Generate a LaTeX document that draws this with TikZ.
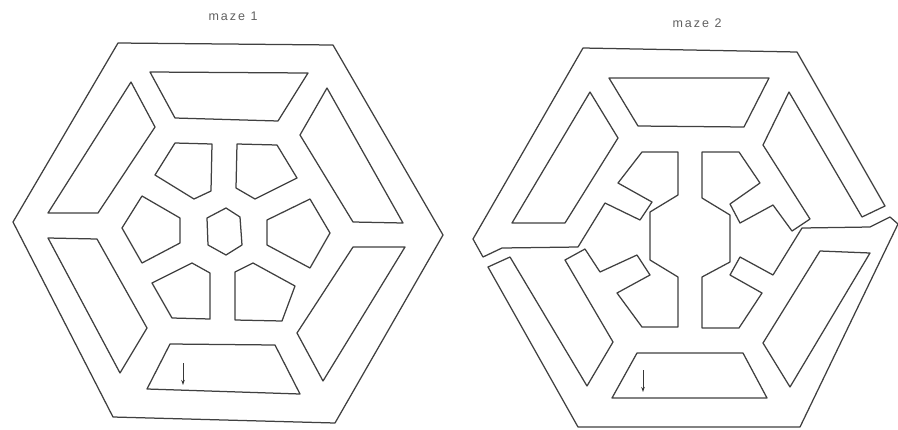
\documentclass[tikz,border=0pt]{standalone}
\usepackage{fontspec}
\setmainfont{Liberation Sans}
\usetikzlibrary{arrows.meta}
\begin{document}
\begin{tikzpicture}[x=1pt,y=-1pt,
  wall/.style={draw=black!75, line width=1.25pt, line join=round},
  ptr/.style={draw=black!78, line width=1pt, -{Stealth[length=5pt,width=3.5pt]}},
  title/.style={text=black!62, inner sep=0pt, font=\fontsize{12.5}{14}\selectfont\addfontfeatures{LetterSpace=16}}]
\useasboundingbox (0,0) rectangle (898,429);
\fill[white] (0,0) rectangle (898,429);

% titles
\node[title] (t1) at (233,16) {maze 1};
\node[title] (t2) at (697,23) {maze 2};

% ---------- maze 1 ----------
\draw[wall] (118,43) -- (333,45) -- (443,235) -- (335,423) -- (113,417) -- (13,222) -- cycle;
% outer ring blocks
\draw[wall] (150,72) -- (308,73) -- (278,121) -- (175,118) -- cycle;
\draw[wall] (131,82) -- (155,127) -- (98,213) -- (48,213) -- cycle;
\draw[wall] (327,88) -- (403,223) -- (353,222) -- (300,135) -- cycle;
\draw[wall] (48,238) -- (97,239) -- (147,328) -- (120,373) -- cycle;
\draw[wall] (405,247) -- (353,247) -- (297,333) -- (323,381) -- cycle;
\draw[wall] (170,344) -- (275,345) -- (300,394) -- (147,389) -- cycle;
\draw[ptr] (183,363) -- (183,385);
% pentagons
\draw[wall] (175,143) -- (212,144) -- (211,191) -- (194,199) -- (155,175) -- cycle;
\draw[wall] (237,144) -- (277,145) -- (297,178) -- (255,199) -- (236,188) -- cycle;
\draw[wall] (142,196) -- (180,218) -- (180,243) -- (142,263) -- (122,228) -- cycle;
\draw[wall] (310,199) -- (330,233) -- (310,268) -- (267,245) -- (267,220) -- cycle;
\draw[wall] (192,263) -- (210,273) -- (210,319) -- (172,318) -- (152,283) -- cycle;
\draw[wall] (253,263) -- (295,286) -- (282,321) -- (235,320) -- (235,272) -- cycle;
% centre
\draw[wall] (226,208) -- (240,217) -- (242,245) -- (226,255) -- (208,245) -- (207,218) -- cycle;

% ---------- maze 2 ----------
\draw[wall] (862,217) -- (885,206) -- (797,52) -- (583,48) -- (473,239) -- (483,257) -- (502,248)
  -- (578,247) -- (605,203) -- (640,220) -- (652,202) -- (618,183) -- (642,152) -- (678,152)
  -- (678,195) -- (650,212) -- (650,260) -- (678,277) -- (678,327) -- (642,327) -- (617,293)
  -- (650,275) -- (637,255) -- (600,272) -- (585,249) -- (565,260) -- (613,342) -- (587,386)
  -- (510,257) -- (488,267) -- (578,427) -- (800,427) -- (898,224) -- (890,217) -- (870,227)
  -- (802,228) -- (773,275) -- (740,257) -- (730,275) -- (762,293) -- (739,328) -- (702,328)
  -- (702,277) -- (730,262) -- (730,215) -- (702,198) -- (702,152) -- (739,152) -- (760,183)
  -- (730,204) -- (740,223) -- (773,205) -- (792,231) -- (810,219) -- (763,145) -- (789,92) -- cycle;
\draw[wall] (609,78) -- (769,78) -- (744,127) -- (638,126) -- cycle;
\draw[wall] (590,92) -- (618,138) -- (565,223) -- (512,223) -- cycle;
\draw[wall] (820,251) -- (870,253) -- (790,387) -- (763,343) -- cycle;
\draw[wall] (637,353) -- (743,353) -- (767,398) -- (612,398) -- cycle;
\draw[ptr] (643,370) -- (643,392);
\end{tikzpicture}
\end{document}
